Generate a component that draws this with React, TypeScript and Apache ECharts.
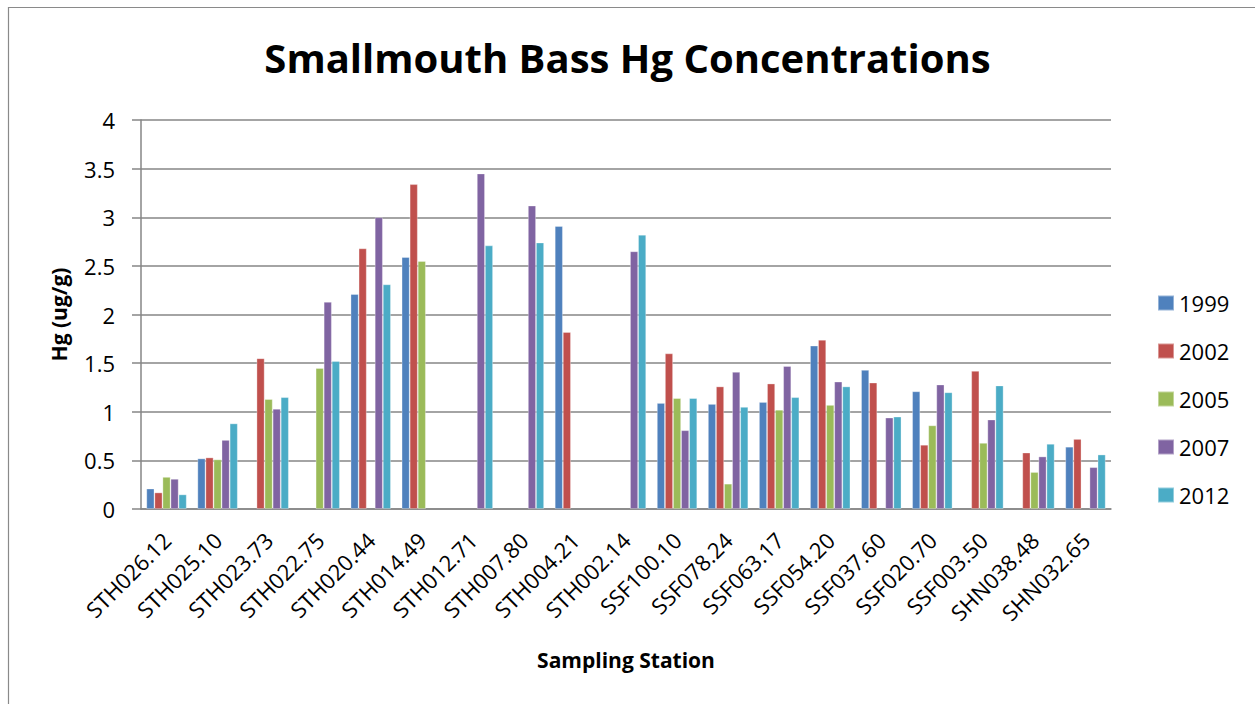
import React, { useEffect, useRef } from "react";
import * as echarts from "echarts";

const categories = [
  "STH026.12", "STH025.10", "STH023.73", "STH022.75", "STH020.44", "STH014.49",
  "STH012.71", "STH007.80", "STH004.21", "STH002.14", "SSF100.10", "SSF078.24",
  "SSF063.17", "SSF054.20", "SSF037.60", "SSF020.70", "SSF003.50", "SHN038.48", "SHN032.65",
];

const seriesNames = ["1999", "2002", "2005", "2007", "2012"];

const y1999 = [0.21, 0.52, null, null, 2.21, 2.59, null, null, 2.91, null, 1.09, 1.08, 1.1, 1.68, 1.43, 1.21, null, null, 0.64];
const y2002 = [0.17, 0.53, 1.55, null, 2.68, 3.34, null, null, 1.82, null, 1.6, 1.26, 1.29, 1.74, 1.3, 0.66, 1.42, 0.58, 0.72];
const y2005 = [0.33, 0.51, 1.13, 1.45, null, 2.55, null, null, null, null, 1.14, 0.26, 1.02, 1.07, null, 0.86, 0.68, 0.38, null];
const y2007 = [0.31, 0.71, 1.03, 2.13, 3.0, null, 3.45, 3.12, null, 2.65, 0.81, 1.41, 1.47, 1.31, 0.94, 1.28, 0.92, 0.54, 0.43];
const y2012 = [0.15, 0.88, 1.15, 1.52, 2.31, null, 2.71, 2.74, null, 2.82, 1.14, 1.05, 1.15, 1.26, 0.95, 1.2, 1.27, 0.67, 0.56];

const seriesData = [y1999, y2002, y2005, y2007, y2012];
const colors = ["#4F81BD", "#C0504D", "#9BBB59", "#8064A2", "#4BACC6"];

const yTicks = { min: 0, max: 4, interval: 0.5 };

const FONT = "'Open Sans', 'Noto Sans', sans-serif";

export default function App() {
  const ref = useRef<HTMLDivElement>(null);

  useEffect(() => {
    if (!ref.current) return;
    const chart = echarts.init(ref.current, null, { renderer: "svg" });
    const gray = "#868686";
    chart.setOption({
      animation: false,
      backgroundColor: "#ffffff",
      color: colors,
      textStyle: { fontFamily: FONT },
      title: {
        text: "Smallmouth Bass Hg Concentrations",
        left: "center",
        top: 32,
        textStyle: { fontFamily: FONT, fontSize: 40, fontWeight: "bold", color: "#000" },
      },
      legend: {
        orient: "vertical",
        left: 1152,
        top: 287,
        itemWidth: 16,
        itemHeight: 15,
        itemGap: 26,
        icon: "rect",
        data: seriesNames,
        textStyle: { fontFamily: FONT, fontSize: 22, color: "#000", lineHeight: 22 },
      },
      grid: { left: 141, right: 144, top: 120, bottom: 195 },
      xAxis: {
        type: "category",
        data: categories,
        name: "Sampling Station",
        nameLocation: "middle",
        nameGap: 140,
        nameTextStyle: { fontFamily: FONT, fontSize: 21, fontWeight: "bold", color: "#000" },
        axisLine: { lineStyle: { color: gray, width: 1.5 } },
        axisTick: { show: false },
        axisLabel: { rotate: 45, margin: 27, fontFamily: FONT, fontSize: 22, color: "#000", interval: 0 },
      },
      yAxis: {
        type: "value",
        min: yTicks.min,
        max: yTicks.max,
        interval: yTicks.interval,
        name: "Hg (ug/g)",
        nameLocation: "middle",
        nameGap: 72,
        nameTextStyle: { fontFamily: FONT, fontSize: 21, fontWeight: "bold", color: "#000" },
        axisLine: { show: true, lineStyle: { color: gray, width: 1.5 } },
        axisTick: { show: true, length: 9, lineStyle: { color: gray, width: 1.5 } },
        axisLabel: { margin: 26, fontFamily: FONT, fontSize: 22, color: "#000" },
        splitLine: { lineStyle: { color: gray, width: 1.5 } },
      },
      graphic: [
        { type: "line", shape: { x1: 8, y1: 7.5, x2: 1255, y2: 7.5 }, style: { stroke: "#8a8a8a", lineWidth: 1.2 } },
        { type: "line", shape: { x1: 8.5, y1: 7, x2: 8.5, y2: 704 }, style: { stroke: "#8a8a8a", lineWidth: 1.2 } },
      ],
      series: seriesNames.map((name, i) => ({
        name,
        type: "bar",
        data: seriesData[i],
        barGap: "0%",
        barCategoryGap: "21%",
        itemStyle: { color: colors[i], borderColor: "rgba(255,255,255,0.4)", borderWidth: 0.8 },
      })),
    });
    return () => chart.dispose();
  }, []);

  return (
    <div
      ref={ref}
      style={{ position: "absolute", left: 0, top: 0, width: 1255, height: 704, background: "#fff" }}
    />
  );
}
